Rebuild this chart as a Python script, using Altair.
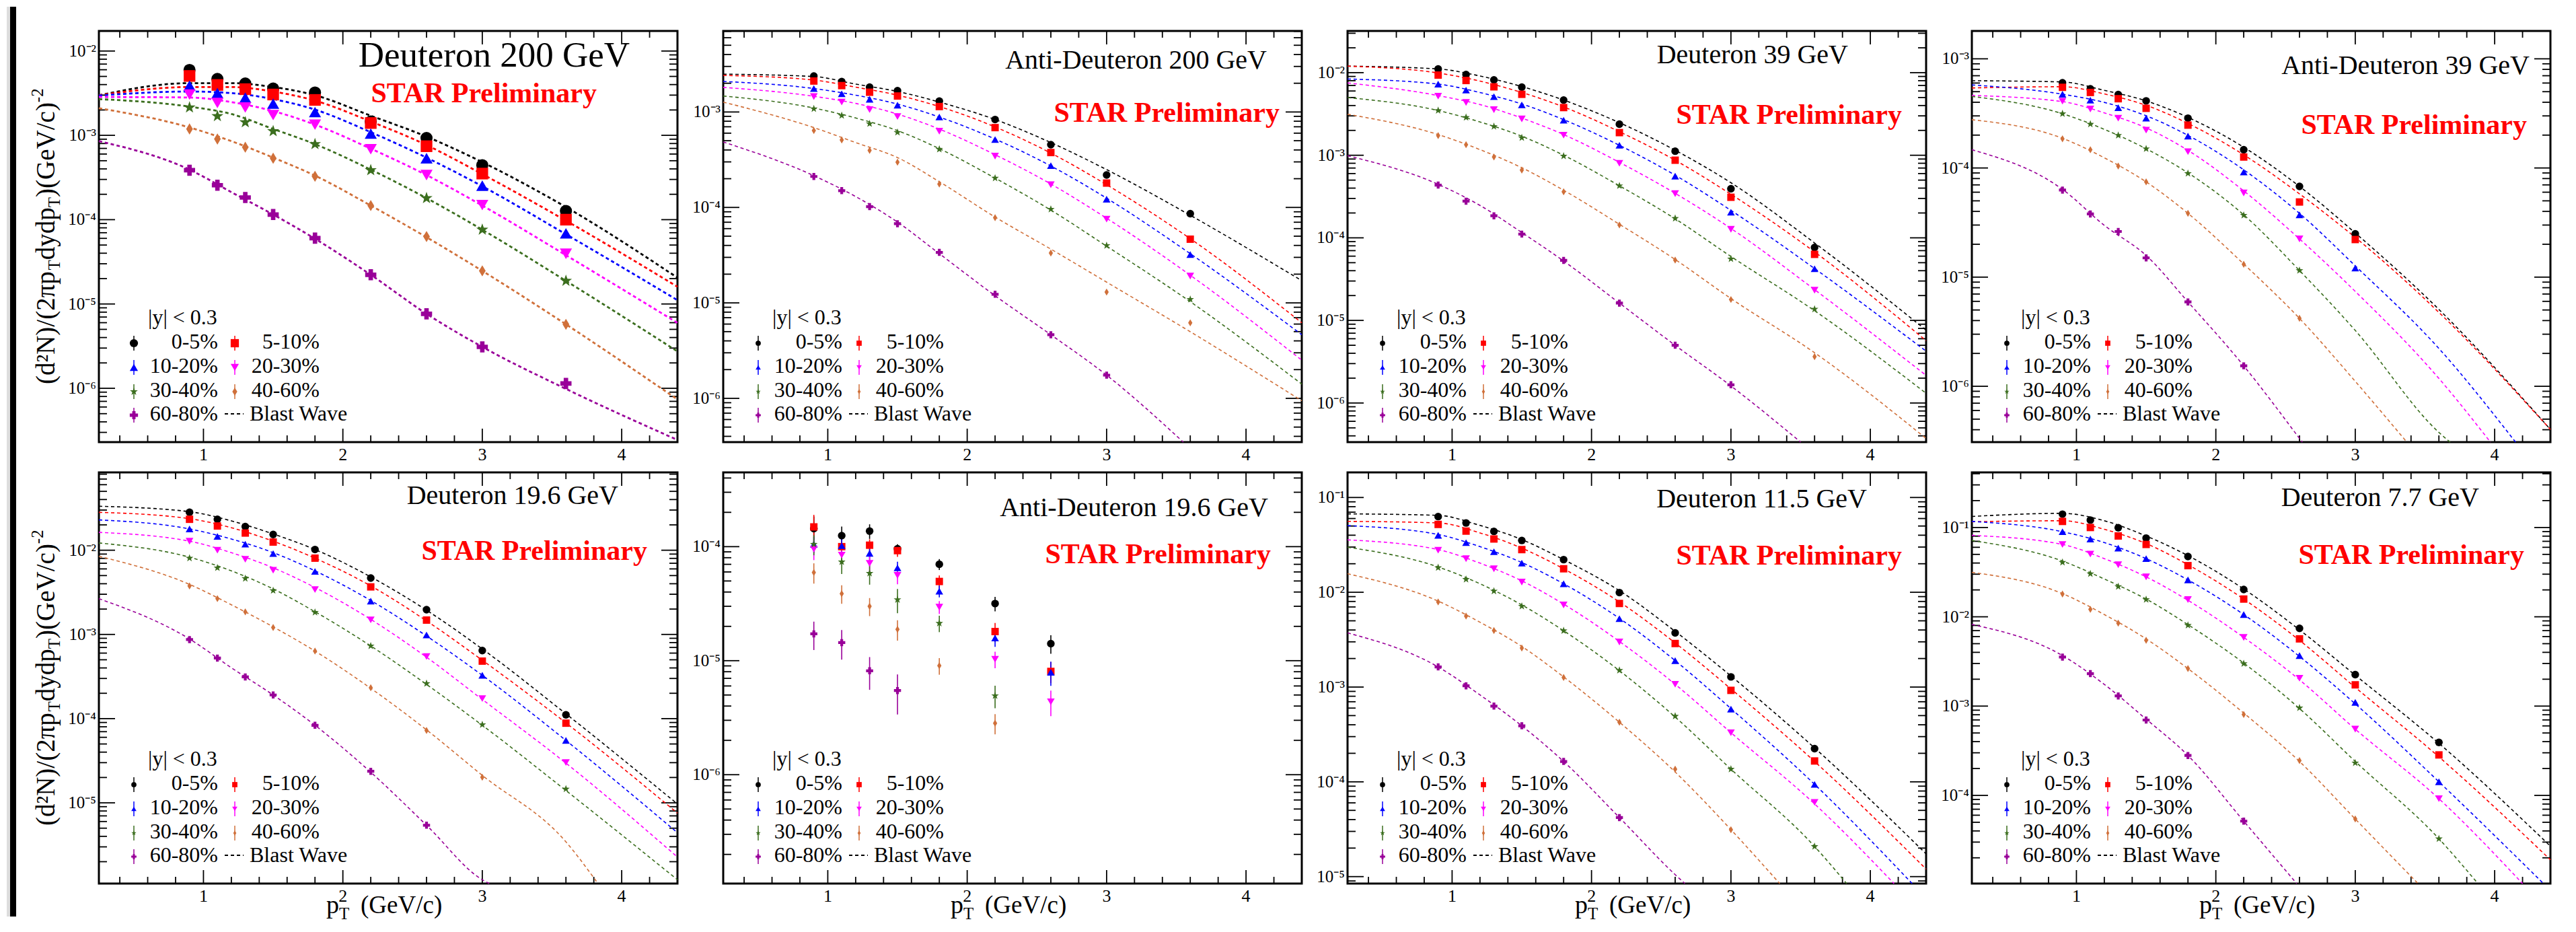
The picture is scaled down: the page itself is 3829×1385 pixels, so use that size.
import altair as alt
import pandas as pd

FONT = "Liberation Serif"
W, H = 860, 611

SERIES = ["0-5%", "5-10%", "10-20%", "20-30%", "30-40%", "40-60%", "60-80%"]
COLORS = ["#000000", "#ff0000", "#0000ff", "#ff00ff", "#3b6e1e", "#d0703a", "#990099"]
STAR = ("M0,-1L0.235,-0.324L0.951,-0.309L0.38,0.124L0.588,0.809L0,0.4"
        "L-0.588,0.809L-0.38,0.124L-0.951,-0.309L-0.235,-0.324Z")
DIAMOND = "M0,-1L0.6,0L0,1L-0.6,0Z"
SHAPES = ["circle", "square", "triangle-up", "triangle-down", STAR, DIAMOND, "cross"]
SIZES = [130, 120, 130, 130, 140, 110, 110]

PT = [0.9, 1.1, 1.3, 1.5, 1.8, 2.2, 2.6, 3.0, 3.6]
BW_PT = [0.25, 0.9, 1.2, 1.5, 1.8, 2.2, 2.6, 3.0, 3.6, 4.4]
X_DOMAIN = [0.25, 4.4]
X_MAJOR = [1, 2, 3, 4]
X_LABELS = ["1", "2", "3", "4"]
X_MINOR = [0.4, 0.6, 0.8, 1.2, 1.4, 1.6, 1.8, 2.2, 2.4, 2.6, 2.8, 3.2, 3.4, 3.6, 3.8, 4.2]
Y_DECADES = [1e-7, 1e-6, 1e-5, 1e-4, 1e-3, 1e-2, 1e-1]
Y_LABELS = ["10\u207b\u2077", "10\u207b\u2076", "10\u207b\u2075", "10\u207b\u2074",
            "10\u207b\u00b3", "10\u207b\u00b2", "10\u207b\u00b9"]

# ---------------- Deuteron 200 GeV ----------------
D200_Y = [
    [5.97e-3, 4.67e-3, 4.12e-3, 3.59e-3, 3.22e-3, 1.46e-3, 9.3e-4, 4.43e-4, 1.27e-4],
    [5.06e-3, 3.96e-3, 3.53e-3, 3.05e-3, 2.63e-3, 1.40e-3, 7.43e-4, 3.52e-4, 1.0e-4],
    [3.89e-3, 3.17e-3, 2.80e-3, 2.38e-3, 1.89e-3, 1.05e-3, 5.35e-4, 2.53e-4, 6.88e-5],
    [3.05e-3, 2.42e-3, 2.14e-3, 1.74e-3, 1.34e-3, 6.84e-4, 3.38e-4, 1.49e-4, 3.94e-5],
    [2.14e-3, 1.69e-3, 1.43e-3, 1.12e-3, 7.87e-4, 3.86e-4, 1.80e-4, 7.6e-5, 1.88e-5],
    [1.19e-3, 9.04e-4, 7.24e-4, 5.35e-4, 3.27e-4, 1.47e-4, 6.3e-5, 2.47e-5, 5.74e-6],
    [3.86e-4, 2.56e-4, 1.83e-4, 1.15e-4, 6.04e-5, 2.22e-5, 7.64e-6, 3.10e-6, 1.14e-6],
]
D200_BW = [
    [2.99e-3, 4.16e-3, 4.16e-3, 3.74e-3, 2.99e-3, 1.71e-3, 9.66e-4, 4.81e-4, 1.41e-4, 2.05e-5],
    [2.99e-3, 3.74e-3, 3.74e-3, 3.31e-3, 2.58e-3, 1.46e-3, 7.67e-4, 3.47e-4, 9.73e-5, 1.60e-5],
    [2.97e-3, 3.31e-3, 3.17e-3, 2.69e-3, 2.02e-3, 1.09e-3, 5.44e-4, 2.49e-4, 6.71e-5, 1.11e-5],
    [2.85e-3, 2.81e-3, 2.48e-3, 1.94e-3, 1.34e-3, 6.95e-4, 3.38e-4, 1.47e-4, 3.79e-5, 5.97e-6],
    [2.69e-3, 2.19e-3, 1.79e-3, 1.19e-3, 7.87e-4, 3.92e-4, 1.80e-4, 7.6e-5, 1.88e-5, 2.74e-6],
    [2.10e-3, 1.24e-3, 8.54e-4, 5.44e-4, 3.33e-4, 1.47e-4, 6.19e-5, 2.47e-5, 5.74e-6, 7.38e-7],
    [8.54e-4, 3.92e-4, 2.12e-4, 1.15e-4, 5.94e-5, 2.22e-5, 7.64e-6, 3.10e-6, 9.84e-7, 2.44e-7],
]
D200_EXIT = {}
D200_YDOM = [2.3e-7, 1.73e-2]

# ---------------- Anti-Deuteron 200 GeV ----------------
AD200_Y = [
    [2.38e-3, 2.08e-3, 1.82e-3, 1.67e-3, 1.30e-3, 8.34e-4, 4.54e-4, 2.19e-4, 8.6e-5],
    [2.11e-3, 1.89e-3, 1.61e-3, 1.47e-3, 1.14e-3, 6.86e-4, 3.76e-4, 1.80e-4, 4.65e-5],
    [1.76e-3, 1.55e-3, 1.36e-3, 1.18e-3, 8.85e-4, 5.14e-4, 2.74e-4, 1.22e-4, 3.21e-5],
    [1.45e-3, 1.27e-3, 1.06e-3, 8.97e-4, 6.29e-4, 3.45e-4, 1.73e-4, 7.54e-5, 1.91e-5],
    [1.08e-3, 9.17e-4, 7.54e-4, 6.11e-4, 4.07e-4, 2.03e-4, 9.57e-5, 3.99e-5, 1.09e-5],
    [6.38e-4, 5.10e-4, 3.96e-4, 2.98e-4, 1.76e-4, 7.82e-5, 3.33e-5, 1.30e-5, 6.19e-6],
    [2.11e-4, 1.50e-4, 1.02e-4, 6.76e-5, 3.38e-5, 1.23e-5, 4.64e-6, 1.75e-6, None],
]
AD200_BW = [
    [2.49e-3, 2.35e-3, 1.96e-3, 1.64e-3, 1.27e-3, 8.34e-4, 4.78e-4, 2.49e-4, 8.28e-5, 1.71e-5],
    [2.42e-3, 2.16e-3, 1.82e-3, 1.50e-3, 1.14e-3, 6.97e-4, 3.71e-4, 1.73e-4, 4.71e-5, 6.19e-6],
    [2.09e-3, 1.76e-3, 1.50e-3, 1.21e-3, 8.85e-4, 5.21e-4, 2.72e-4, 1.25e-4, 3.28e-5, 4.64e-6],
    [1.81e-3, 1.46e-3, 1.23e-3, 9.51e-4, 6.62e-4, 3.57e-4, 1.76e-4, 7.71e-5, 1.95e-5, 2.51e-6],
    [1.47e-3, 1.10e-3, 8.65e-4, 6.38e-4, 4.13e-4, 2.03e-4, 9.38e-5, 3.93e-5, 1.03e-5, 1.41e-6],
    [1.27e-3, 6.86e-4, 4.78e-4, 3.33e-4, 1.86e-4, 7.93e-5, 3.66e-5, 1.65e-5, 4.99e-6, 9.44e-7],
    [4.85e-4, 2.15e-4, 1.30e-4, 7.02e-5, 3.28e-5, 1.19e-5, 4.64e-6, 1.75e-6, 3.07e-7, 2.5e-8],
]
AD200_EXIT = {6: 3.55}
AD200_YDOM = [3.48e-7, 7.06e-3]

# ---------------- Deuteron 39 GeV ----------------
D39_Y = [
    [1.11e-2, 9.51e-3, 8.18e-3, 6.69e-3, 4.66e-3, 2.38e-3, 1.12e-3, 3.93e-4, 7.64e-5],
    [9.35e-3, 8.04e-3, 6.74e-3, 5.47e-3, 3.78e-3, 1.88e-3, 8.71e-4, 3.10e-4, 6.31e-5],
    [7.27e-3, 6.15e-3, 5.12e-3, 4.07e-3, 2.66e-3, 1.32e-3, 5.58e-4, 2.04e-4, 4.22e-5],
    [5.20e-3, 4.36e-3, 3.56e-3, 2.75e-3, 1.75e-3, 8.00e-4, 3.43e-4, 1.27e-4, 2.32e-5],
    [3.48e-3, 2.87e-3, 2.23e-3, 1.63e-3, 9.79e-4, 4.27e-4, 1.72e-4, 5.56e-5, 1.37e-5],
    [1.73e-3, 1.34e-3, 9.55e-4, 6.61e-4, 3.61e-4, 1.43e-4, 5.37e-5, 1.79e-5, 3.64e-6],
    [4.35e-4, 2.78e-4, 1.85e-4, 1.11e-4, 5.33e-5, 1.62e-5, 5.00e-6, 1.66e-6, None],
]
D39_BW = [
    [1.20e-2, 1.11e-2, 9.12e-3, 6.79e-3, 4.66e-3, 2.48e-3, 1.15e-3, 4.65e-4, 8.67e-5, 7.62e-6],
    [1.20e-2, 9.91e-3, 7.91e-3, 5.75e-3, 3.85e-3, 1.93e-3, 8.71e-4, 3.37e-4, 6.75e-5, 5.68e-6],
    [8.38e-3, 7.27e-3, 5.75e-3, 4.18e-3, 2.70e-3, 1.32e-3, 5.73e-4, 2.15e-4, 4.25e-5, 4.24e-6],
    [7.52e-3, 5.28e-3, 4.11e-3, 2.82e-3, 1.78e-3, 8.21e-4, 3.46e-4, 1.30e-4, 2.36e-5, 2.16e-6],
    [4.99e-3, 3.48e-3, 2.53e-3, 1.70e-3, 1.00e-3, 4.27e-4, 1.70e-4, 5.94e-5, 1.31e-5, 1.31e-6],
    [3.14e-3, 1.78e-3, 1.17e-3, 7.06e-4, 3.77e-4, 1.46e-4, 5.47e-5, 1.84e-5, 4.06e-6, 3.72e-7],
    [9.88e-4, 4.45e-4, 2.47e-4, 1.16e-4, 5.24e-5, 1.62e-5, 5.00e-6, 1.61e-6, 2.65e-7, 2.0e-8],
]
D39_EXIT = {6: 3.50}
D39_YDOM = [3.36e-7, 3.2e-2]

# ---------------- Anti-Deuteron 39 GeV ----------------
AD39_Y = [
    [6.03e-4, 5.31e-4, 4.71e-4, 4.12e-4, 2.86e-4, 1.47e-4, 6.78e-5, 2.49e-5, None],
    [5.48e-4, 4.92e-4, 4.31e-4, 3.52e-4, 2.47e-4, 1.26e-4, 4.88e-5, 2.21e-5, None],
    [4.74e-4, 4.18e-4, 3.57e-4, 2.86e-4, 1.96e-4, 9.19e-5, 3.72e-5, 1.21e-5, None],
    [4.09e-4, 3.47e-4, 2.86e-4, 2.22e-4, 1.41e-4, 5.90e-5, 2.24e-5, None, None],
    [3.14e-4, 2.52e-4, 1.99e-4, 1.50e-4, 8.91e-5, 3.69e-5, 1.15e-5, None, None],
    [1.85e-4, 1.47e-4, 1.04e-4, 7.46e-5, 3.84e-5, 1.31e-5, 4.19e-6, None, None],
    [6.28e-5, 3.79e-5, 2.62e-5, 1.50e-5, 5.93e-6, 1.54e-6, None, None, None],
]
AD39_BW = [
    [6.30e-4, 6.14e-4, 5.14e-4, 4.12e-4, 2.91e-4, 1.55e-4, 6.78e-5, 2.54e-5, 5.06e-6, 4.02e-7],
    [5.41e-4, 5.55e-4, 4.77e-4, 3.75e-4, 2.56e-4, 1.32e-4, 5.79e-5, 2.31e-5, 4.75e-6, 4.02e-7],
    [5.77e-4, 4.74e-4, 3.99e-4, 3.01e-4, 1.99e-4, 9.62e-5, 3.84e-5, 1.27e-5, 2.22e-6, 1.20e-7],
    [4.62e-4, 4.05e-4, 3.20e-4, 2.33e-4, 1.45e-4, 6.17e-5, 2.24e-5, 7.40e-6, 1.18e-6, 1.0e-7],
    [4.53e-4, 3.14e-4, 2.26e-4, 1.50e-4, 9.02e-5, 3.72e-5, 1.15e-5, 3.25e-6, 3.78e-7, 2.64e-8],
    [2.77e-4, 1.87e-4, 1.24e-4, 7.46e-5, 3.84e-5, 1.32e-5, 4.19e-6, 1.11e-6, 1.46e-7, 5.4e-9],
    [1.47e-4, 6.37e-5, 2.98e-5, 1.58e-5, 5.93e-6, 1.54e-6, 3.33e-7, 6.0e-8, None, None],
]
AD39_EXIT = {2: 4.15, 3: 3.97, 4: 3.68, 5: 3.37, 6: 2.62}
AD39_YDOM = [3.08e-7, 1.80e-3]

# ---------------- Deuteron 19.6 GeV ----------------
D19_Y = [
    [2.82e-2, 2.33e-2, 1.91e-2, 1.54e-2, 1.02e-2, 4.67e-3, 1.97e-3, 6.44e-4, 1.11e-4],
    [2.33e-2, 1.94e-2, 1.60e-2, 1.25e-2, 8.05e-3, 3.67e-3, 1.48e-3, 4.82e-4, 8.83e-5],
    [1.79e-2, 1.46e-2, 1.18e-2, 9.12e-3, 5.60e-3, 2.49e-3, 9.84e-4, 3.27e-4, 5.51e-5],
    [1.28e-2, 1.00e-2, 7.80e-3, 5.79e-3, 3.41e-3, 1.49e-3, 5.46e-4, 1.73e-4, 3.01e-5],
    [8.05e-3, 6.18e-3, 4.62e-3, 3.32e-3, 1.83e-3, 7.30e-4, 2.61e-4, 8.47e-5, 1.46e-5],
    [3.77e-3, 2.66e-3, 1.85e-3, 1.21e-3, 6.34e-4, 2.33e-4, 7.24e-5, 2.01e-5, None],
    [8.69e-4, 5.24e-4, 3.13e-4, 1.91e-4, 8.34e-5, 2.37e-5, 5.42e-6, None, None],
]
D19_BW = [
    [3.33e-2, 2.87e-2, 2.23e-2, 1.56e-2, 1.02e-2, 4.82e-3, 1.94e-3, 6.72e-4, 1.14e-4, 9.68e-6],
    [2.82e-2, 2.37e-2, 1.85e-2, 1.28e-2, 8.05e-3, 3.77e-3, 1.45e-3, 4.94e-4, 8.91e-5, 7.55e-6],
    [2.29e-2, 1.79e-2, 1.36e-2, 9.36e-3, 5.69e-3, 2.53e-3, 9.59e-4, 3.27e-4, 5.51e-5, 4.41e-6],
    [1.63e-2, 1.28e-2, 9.36e-3, 6.18e-3, 3.61e-3, 1.51e-3, 5.37e-4, 1.69e-4, 2.96e-5, 2.27e-6],
    [1.22e-2, 8.26e-3, 5.69e-3, 3.47e-3, 1.86e-3, 7.30e-4, 2.55e-4, 8.34e-5, 1.40e-5, 1.22e-6],
    [8.47e-3, 3.93e-3, 2.25e-3, 1.23e-3, 6.34e-4, 2.29e-4, 7.36e-5, 2.12e-5, 3.44e-6, 2.53e-7],
    [2.66e-3, 8.83e-4, 4.02e-4, 1.91e-4, 8.34e-5, 2.31e-5, 5.42e-6, 1.22e-6, 9.4e-8, None],
]
D19_EXIT = {5: 3.83, 6: 3.05}
D19_YDOM = [1.10e-6, 8.4e-2]

# ---------------- Anti-Deuteron 19.6 GeV (no fit) ----------------
AD19_Y = [
    [1.44e-4, 1.25e-4, 1.37e-4, 9.58e-5, 7.01e-5, 3.17e-5, 1.41e-5, None, None],
    [1.49e-4, 1.00e-4, 1.03e-4, 9.23e-5, 4.95e-5, 1.80e-5, 8.05e-6, None, None],
    [1.05e-4, 1.02e-4, 8.74e-5, 6.52e-5, 4.07e-5, 1.58e-5, 7.91e-6, None, None],
    [9.52e-5, 8.43e-5, 7.14e-5, 5.60e-5, 2.95e-5, 1.03e-5, 4.36e-6, None, None],
    [1.05e-4, 7.36e-5, 5.84e-5, 3.43e-5, 2.13e-5, 4.93e-6, None, None, None],
    [5.94e-5, 3.87e-5, 3.00e-5, 1.88e-5, 9.03e-6, 2.83e-6, None, None, None],
    [1.72e-5, 1.44e-5, 8.15e-6, 5.47e-6, None, None, None, None, None],
]
AD19_ERR = [
    [4.0e-5, 2.5e-5, 2.0e-5, 9.2e-6, 7.7e-6, 4.6e-6, 2.6e-6, None, None],
    [4.1e-5, 1.4e-5, 1.3e-5, 1.1e-5, 6.4e-6, 3.4e-6, 1.7e-6, None, None],
    [1.7e-5, 2.0e-5, 1.3e-5, 8.5e-6, 4.8e-6, 2.6e-6, 1.9e-6, None, None],
    [1.9e-5, 1.4e-5, 1.2e-5, 9.2e-6, 3.8e-6, 1.7e-6, 1.1e-6, None, None],
    [2.1e-5, 1.6e-5, 1.2e-5, 8.2e-6, 3.5e-6, 1.1e-6, None, None, None],
    [1.2e-5, 7.2e-6, 5.4e-6, 3.8e-6, 1.5e-6, 5.7e-7, None, None, None],
    [4.8e-6, 4.2e-6, 2.6e-6, 2.1e-6, None, None, None, None, None],
]
AD19_YDOM = [1.11e-7, 4.48e-4]

# ---------------- Deuteron 11.5 GeV ----------------
D11_Y = [
    [6.29e-2, 5.39e-2, 4.39e-2, 3.52e-2, 2.21e-2, 9.93e-3, 3.73e-3, 1.28e-3, 2.24e-4],
    [5.20e-2, 4.42e-2, 3.65e-2, 2.82e-2, 1.77e-2, 7.62e-3, 2.88e-3, 9.23e-4, 1.66e-4],
    [3.99e-2, 3.34e-2, 2.68e-2, 2.03e-2, 1.23e-2, 5.27e-3, 1.90e-3, 5.85e-4, 9.41e-5],
    [2.78e-2, 2.26e-2, 1.77e-2, 1.28e-2, 7.35e-3, 2.99e-3, 1.07e-3, 3.30e-4, 6.07e-5],
    [1.82e-2, 1.37e-2, 1.03e-2, 7.13e-3, 3.93e-3, 1.50e-3, 4.93e-4, 1.36e-4, 2.08e-5],
    [7.91e-3, 5.60e-3, 3.95e-3, 2.58e-3, 1.26e-3, 4.26e-4, 1.36e-4, 3.13e-5, None],
    [1.63e-3, 1.03e-3, 6.29e-4, 3.90e-4, 1.64e-4, 4.20e-5, None, None, None],
]
D11_BW = [
    [6.72e-2, 6.48e-2, 5.08e-2, 3.60e-2, 2.21e-2, 1.04e-2, 3.87e-3, 1.31e-3, 2.28e-4, 1.74e-5],
    [5.60e-2, 5.39e-2, 4.23e-2, 2.92e-2, 1.77e-2, 7.91e-3, 2.92e-3, 9.57e-4, 1.64e-4, 1.20e-5],
    [5.05e-2, 4.07e-2, 3.03e-2, 2.06e-2, 1.23e-2, 5.31e-3, 1.90e-3, 5.93e-4, 9.41e-5, 6.67e-6],
    [3.57e-2, 2.82e-2, 2.03e-2, 1.32e-2, 7.50e-3, 3.03e-3, 1.07e-3, 3.30e-4, 5.85e-5, 4.97e-6],
    [2.99e-2, 1.85e-2, 1.23e-2, 7.35e-3, 3.93e-3, 1.49e-3, 4.83e-4, 1.36e-4, 2.08e-5, 8.7e-7],
    [1.57e-2, 8.07e-3, 4.83e-3, 2.68e-3, 1.28e-3, 4.26e-4, 1.27e-4, 3.13e-5, 3.37e-6, 1.4e-7],
    [3.73e-3, 1.63e-3, 8.26e-4, 3.90e-4, 1.64e-4, 4.20e-5, 1.05e-5, 2.53e-6, None, None],
]
D11_EXIT = {2: 4.30, 3: 4.17, 4: 3.83, 5: 3.35, 6: 2.67}
D11_YDOM = [8.45e-6, 0.184]

# ---------------- Deuteron 7.7 GeV ----------------
D7_Y = [
    [1.41e-1, 1.21e-1, 9.93e-2, 7.61e-2, 4.73e-2, 2.02e-2, 7.43e-3, 2.25e-3, 3.92e-4],
    [1.17e-1, 1.00e-1, 8.04e-2, 6.46e-2, 3.74e-2, 1.58e-2, 5.66e-3, 1.73e-3, 2.84e-4],
    [8.97e-2, 7.43e-2, 5.88e-2, 4.48e-2, 2.59e-2, 1.06e-2, 3.68e-3, 1.10e-3, 1.42e-4],
    [6.46e-2, 5.04e-2, 3.83e-2, 2.80e-2, 1.56e-2, 5.88e-3, 2.05e-3, 5.52e-4, 9.18e-5],
    [4.07e-2, 3.03e-2, 2.18e-2, 1.56e-2, 8.04e-3, 2.99e-3, 9.55e-4, 2.31e-4, 3.27e-5],
    [1.80e-2, 1.21e-2, 8.49e-3, 5.45e-3, 2.63e-3, 8.04e-4, 2.45e-4, 5.44e-5, None],
    [3.54e-3, 2.31e-3, 1.30e-3, 6.98e-4, 2.80e-4, 5.15e-5, None, None, None],
]
D7_BW = [
    [1.33e-1, 1.44e-1, 1.19e-1, 8.04e-2, 4.84e-2, 2.05e-2, 7.15e-3, 2.22e-3, 3.83e-4, 2.70e-5],
    [1.16e-1, 1.19e-1, 9.54e-2, 6.61e-2, 3.83e-2, 1.58e-2, 5.45e-3, 1.62e-3, 2.70e-4, 1.90e-5],
    [1.17e-1, 8.97e-2, 6.78e-2, 4.48e-2, 2.59e-2, 1.06e-2, 3.60e-3, 1.06e-3, 1.42e-4, 8.7e-6],
    [8.17e-2, 6.46e-2, 4.48e-2, 2.80e-2, 1.53e-2, 5.88e-3, 1.97e-3, 5.52e-4, 9.18e-5, 4.92e-6],
    [7.15e-2, 4.21e-2, 2.65e-2, 1.58e-2, 8.17e-3, 3.03e-3, 9.40e-4, 2.40e-4, 3.27e-5, 1.13e-6],
    [3.15e-2, 1.82e-2, 1.06e-2, 5.66e-3, 2.63e-3, 8.36e-4, 2.40e-4, 5.44e-5, 5.61e-6, 2.1e-7],
    [8.22e-3, 3.68e-3, 1.75e-3, 7.14e-4, 2.80e-4, 5.15e-5, 8.69e-6, 1.56e-6, None, None],
]
D7_EXIT = {2: 4.35, 3: 4.20, 4: 3.88, 5: 3.45, 6: 2.58}
D7_YDOM = [1.03e-5, 0.414]

PANELS = [
    dict(title="Deuteron 200 GeV", y=D200_Y, bw=D200_BW, exit=D200_EXIT, err=None, ydom=D200_YDOM,
         big=True, tpos=(W - 71, 53, 53), spos=(W - 120, 106)),
    dict(title="Anti-Deuteron 200 GeV", y=AD200_Y, bw=AD200_BW, exit=AD200_EXIT, err=None, ydom=AD200_YDOM,
         big=False, tpos=(W - 52, 56, 40), spos=(W - 33, 135)),
    dict(title="Deuteron 39 GeV", y=D39_Y, bw=D39_BW, exit=D39_EXIT, err=None, ydom=D39_YDOM,
         big=False, tpos=(W - 116, 48, 40), spos=(W - 36, 138)),
    dict(title="Anti-Deuteron 39 GeV", y=AD39_Y, bw=AD39_BW, exit=AD39_EXIT, err=None, ydom=AD39_YDOM,
         big=False, tpos=(W - 31, 64, 40), spos=(W - 35, 153)),
    dict(title="Deuteron 19.6 GeV", y=D19_Y, bw=D19_BW, exit=D19_EXIT, err=None, ydom=D19_YDOM,
         big=False, tpos=(W - 88, 47, 40), spos=(W - 45, 130)),
    dict(title="Anti-Deuteron 19.6 GeV", y=AD19_Y, bw=None, exit={}, err=AD19_ERR, ydom=AD19_YDOM,
         big=False, tpos=(W - 50, 65, 40), spos=(W - 46, 135)),
    dict(title="Deuteron 11.5 GeV", y=D11_Y, bw=D11_BW, exit=D11_EXIT, err=None, ydom=D11_YDOM,
         big=False, tpos=(W - 88, 52, 40), spos=(W - 36, 137)),
    dict(title="Deuteron 7.7 GeV", y=D7_Y, bw=D7_BW, exit=D7_EXIT, err=None, ydom=D7_YDOM,
         big=False, tpos=(W - 106, 50, 40), spos=(W - 39, 136)),
]
KEYS = [f"p{i}" for i in range(len(PANELS))]

LEG_BASE = [472, 508, 544, 579]
LEG_MARK_X = [52, 202]
LEG_TEXT_X = [177, 328]

YT_PIECES = [("(d\u00b2N)/(2\u03c0p", 39, 4.348, 0), ("T", 25, 0.611, 8), ("dydp", 39, 2.0, 0),
             ("T", 25, 0.611, 8), (")(GeV/c)", 39, 3.609, 0), ("-2", 25, 0.833, -17)]
XT_PIECES = [("p", 38, 338, 655), ("T", 25, 357, 664), ("(GeV/c)", 37, 389, 655)]

rows = []
for pi, p in enumerate(PANELS):
    key = KEYS[pi]
    col, row = pi % 4, pi // 4
    lo, hi = p["ydom"]
    big = p["big"]
    mult = 2.5 if big else 1.0

    def add(kind, **kw):
        kw.update(panel=key, kind=kind)
        rows.append(kw)

    # inward ticks on all four sides; zero-length rules at lo/hi pin the y range
    for vals, L in [(X_MAJOR, 20), (X_MINOR, 10)]:
        for v in vals:
            add("xt", t=v, a=0, b=L)
            add("xt", t=v, a=H, b=H - L)
    decs = [(v, l) for v, l in zip(Y_DECADES, Y_LABELS) if lo <= v <= hi]
    mins = [k * 10.0 ** n for n in range(-9, 1) for k in range(2, 10) if lo <= k * 10.0 ** n <= hi]
    for vals, L in [([d[0] for d in decs], 24), (mins, 12)]:
        for v in vals:
            add("yt", t=v, a=0, b=L)
            add("yt", t=v, a=W, b=W - L)
    add("yt", t=lo, a=0, b=0)
    add("yt", t=hi, a=0, b=0)
    for v, l in zip(X_MAJOR, X_LABELS):
        add("xl", t=v, lab=l)
    for v, l in decs:
        add("yl", t=v, lab=l)

    # blast-wave curves, ended where they leave the frame (read exit position)
    if p["bw"] is not None:
        for si, s in enumerate(SERIES):
            for xi, v in enumerate(p["bw"][si]):
                if v is None:
                    break
                if v < lo:
                    if si in p["exit"]:
                        add("bw", pt=p["exit"][si], val=lo, series=s, sw=2.8 if big else 1.6)
                    break
                add("bw", pt=BW_PT[xi], val=v, series=s, sw=2.8 if big else 1.6)

    # data points and error bars
    for si, s in enumerate(SERIES):
        for xi, v in enumerate(p["y"][si]):
            if v is None:
                continue
            add("pts", pt=PT[xi], val=v, series=s, sz=SIZES[si] * mult)
            if p["err"] is not None:
                e = p["err"][si][xi]
                add("err", pt=PT[xi], elo=v - e, ehi=v + e, series=s)

    # texts and legend
    tx, ty, tfs = p["tpos"]
    add("rt", x=tx, y=ty, txt=p["title"], fs=tfs)
    sx, sy = p["spos"]
    add("star", x=sx, y=sy, txt="STAR Preliminary")
    add("lt", x=73, y=436, txt="|y| < 0.3", fs=32)
    add("lt", x=224, y=LEG_BASE[3], txt="Blast Wave", fs=32)
    add("dash", a=187, b=215, c=LEG_BASE[3] - 10)
    for i, s in enumerate(SERIES):
        r, c = divmod(i, 2)
        add("rt", x=LEG_TEXT_X[c], y=LEG_BASE[r], txt=s, fs=32)
        add("leg", series=s, mx=LEG_MARK_X[c], my=LEG_BASE[r] - 8, e1=LEG_BASE[r] - 19,
            e2=LEG_BASE[r] + 3, lsz=150 if big else 60)
    if row == 1:
        for txt, fs, x, y in XT_PIECES:
            add("lt", x=x, y=y, txt=txt, fs=fs)
    if col == 0:
        cur = 525
        for txt, fs, em, dx in YT_PIECES:
            add("ytt", x=-66 + dx, y=cur, txt=txt, fs=fs)
            cur -= em * fs
        y1, y2 = (-36, H + 45) if row == 0 else (0, 660)
        add("border", x1=-137, x2=-132, y1=y1, y2=y2, c="#dddddd")
        add("border", x1=-132, x2=-123, y1=y1, y2=y2, c="#000000")

df = pd.DataFrame(rows)

xs = alt.Scale(domain=X_DOMAIN, nice=False, zero=False)
ys = alt.Scale(type="log", nice=False)
cs = alt.Scale(domain=SERIES, range=COLORS)
ss = alt.Scale(domain=SERIES, range=SHAPES)
PX = dict(scale=None, axis=None)
base = alt.Chart()


def only(kind):
    return base.transform_filter(alt.datum.kind == kind)


X = alt.X("t:Q", scale=xs, axis=None)
Y = alt.Y("t:Q", scale=ys, axis=None)
layers = [
    only("border").mark_rect().encode(
        x=alt.X("x1:Q", **PX), x2="x2:Q", y=alt.Y("y1:Q", **PX), y2="y2:Q",
        color=alt.Color("c:N", scale=None, legend=None)),
    only("xt").mark_rule(color="black", strokeWidth=1.8).encode(x=X, y=alt.Y("a:Q", **PX), y2="b:Q"),
    only("yt").mark_rule(color="black", strokeWidth=1.8).encode(y=Y, x=alt.X("a:Q", **PX), x2="b:Q"),
    only("xl").mark_text(baseline="top", font=FONT, fontSize=26, color="black").encode(
        x=X, y=alt.value(H + 6), text="lab:N"),
    only("yl").mark_text(align="right", baseline="middle", font=FONT, fontSize=25, color="black").encode(
        y=Y, x=alt.value(-4), text="lab:N"),
    only("bw").mark_line(interpolate="monotone", strokeDash=[5, 4]).encode(
        x=alt.X("pt:Q", scale=xs, axis=None), y=alt.Y("val:Q", scale=ys, axis=None),
        color=alt.Color("series:N", scale=cs, legend=None), detail="series:N",
        strokeWidth=alt.StrokeWidth("sw:Q", scale=None, legend=None)),
    only("err").mark_rule(strokeWidth=1.6).encode(
        x=alt.X("pt:Q", scale=xs, axis=None), y=alt.Y("elo:Q", scale=ys, axis=None), y2="ehi:Q",
        color=alt.Color("series:N", scale=cs, legend=None)),
    only("pts").mark_point(filled=True, opacity=1).encode(
        x=alt.X("pt:Q", scale=xs, axis=None), y=alt.Y("val:Q", scale=ys, axis=None),
        color=alt.Color("series:N", scale=cs, legend=None),
        shape=alt.Shape("series:N", scale=ss, legend=None),
        size=alt.Size("sz:Q", scale=None, legend=None)),
    only("rt").mark_text(align="right", baseline="alphabetic", font=FONT, color="black").encode(
        x=alt.X("x:Q", **PX), y=alt.Y("y:Q", **PX), text="txt:N", size=alt.Size("fs:Q", scale=None, legend=None)),
    only("lt").mark_text(align="left", baseline="alphabetic", font=FONT, color="black").encode(
        x=alt.X("x:Q", **PX), y=alt.Y("y:Q", **PX), text="txt:N", size=alt.Size("fs:Q", scale=None, legend=None)),
    only("ytt").mark_text(align="left", baseline="alphabetic", font=FONT, color="black", angle=270).encode(
        x=alt.X("x:Q", **PX), y=alt.Y("y:Q", **PX), text="txt:N", size=alt.Size("fs:Q", scale=None, legend=None)),
    only("star").mark_text(align="right", baseline="alphabetic", font=FONT, fontSize=42, fontWeight="bold",
                           color="#ff0000").encode(x=alt.X("x:Q", **PX), y=alt.Y("y:Q", **PX), text="txt:N"),
    only("leg").mark_rule(strokeWidth=1.5).encode(
        x=alt.X("mx:Q", **PX), y=alt.Y("e1:Q", **PX), y2="e2:Q",
        color=alt.Color("series:N", scale=cs, legend=None)),
    only("leg").mark_point(filled=True, opacity=1).encode(
        x=alt.X("mx:Q", **PX), y=alt.Y("my:Q", **PX),
        color=alt.Color("series:N", scale=cs, legend=None),
        shape=alt.Shape("series:N", scale=ss, legend=None),
        size=alt.Size("lsz:Q", scale=None, legend=None)),
    only("dash").mark_rule(color="black", strokeWidth=2, strokeDash=[5, 4]).encode(
        x=alt.X("a:Q", **PX), x2="b:Q", y=alt.Y("c:Q", **PX)),
]

chart = alt.layer(*layers, data=df).properties(width=W, height=H).facet(
    facet=alt.Facet("panel:N", title=None, sort=KEYS,
                    header=alt.Header(labels=False, title=None, labelFontSize=0, labelPadding=0)),
    columns=4,
    spacing={"row": 45, "column": 68},
    bounds="flush",
).resolve_scale(y="independent").properties(
    padding={"left": 0, "top": 0, "right": 0, "bottom": 0}
).configure_view(stroke="black", strokeWidth=3).configure_header(labels=False, title=None)

chart.save("out.html", embed_options={"renderer": "svg", "actions": False})
